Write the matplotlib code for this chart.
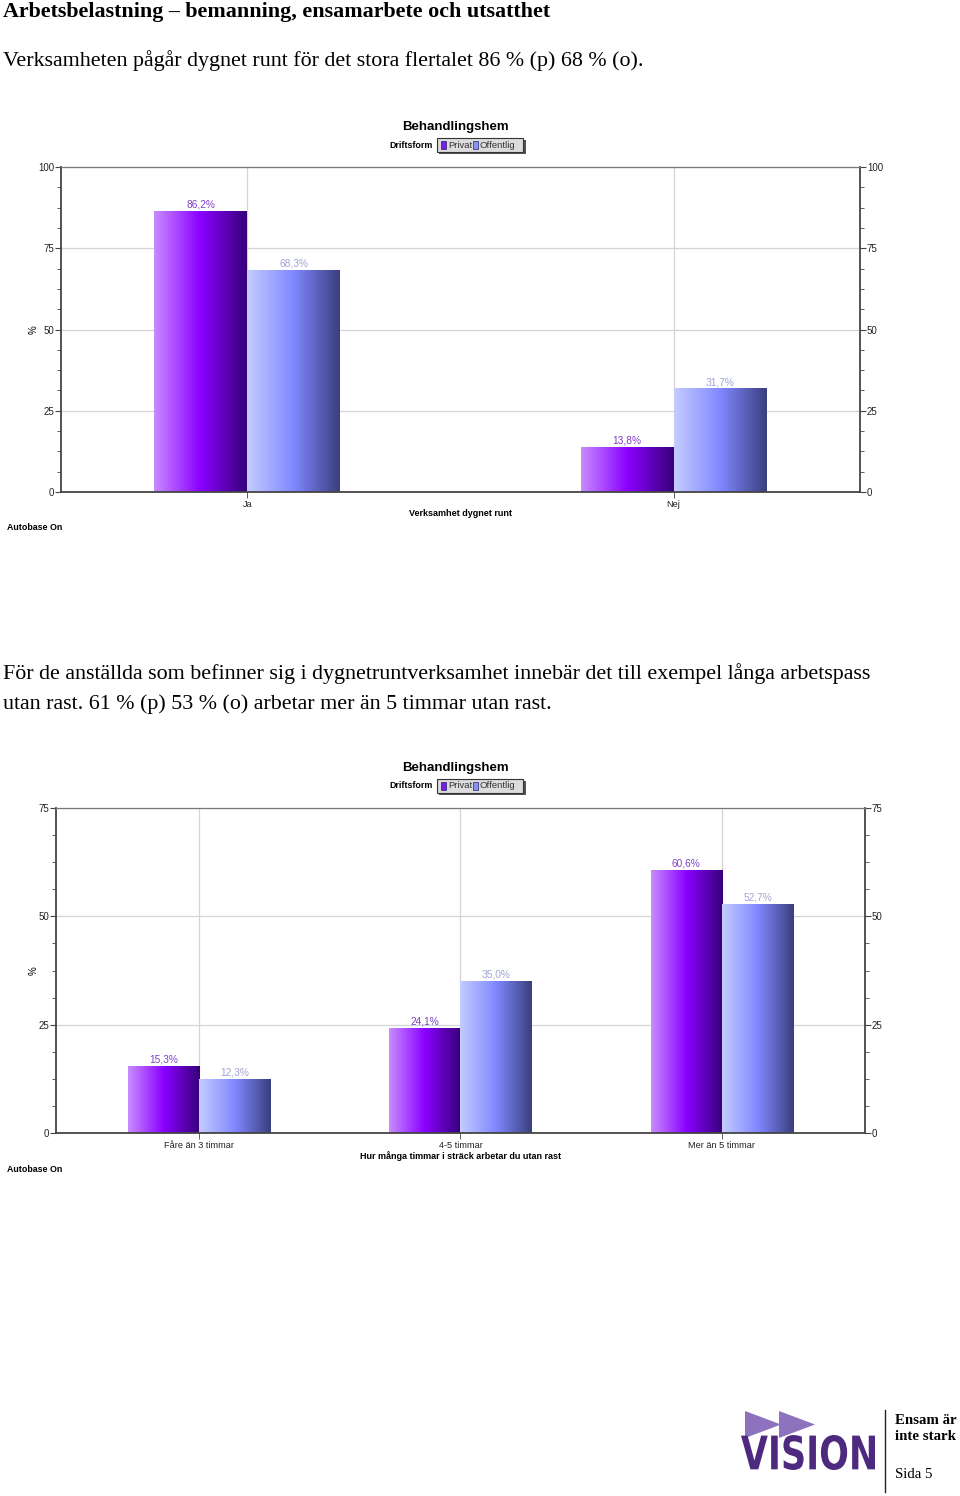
import numpy as np
import matplotlib
matplotlib.use("Agg")
import matplotlib.pyplot as plt
from matplotlib.colors import LinearSegmentedColormap
from matplotlib.patches import Rectangle, Polygon, PathPatch
from matplotlib.textpath import TextPath
from matplotlib.font_manager import FontProperties
from matplotlib.transforms import Affine2D
from matplotlib.ticker import MultipleLocator

W, H = 960, 1496

series = ["Privat", "Offentlig"]

# chart 1
cats1 = ["Ja", "Nej"]
privat1 = [86.2, 13.8]
offentlig1 = [68.3, 31.7]
xlabel1 = "Verksamhet dygnet runt"

# chart 2
cats2 = ["Fåre än 3 timmar", "4-5 timmar", "Mer än 5 timmar"]
privat2 = [15.3, 24.1, 60.6]
offentlig2 = [12.3, 35.0, 52.7]
xlabel2 = "Hur många timmar i sträck arbetar du utan rast"

title = "Arbetsbelastning – bemanning, ensamarbete och utsatthet"
intro1 = "Verksamheten pågår dygnet runt för det stora flertalet 86 % (p) 68 % (o)."
intro2 = ["För de anställda som befinner sig i dygnetruntverksamhet innebär det till exempel långa arbetspass",
          "utan rast. 61 % (p) 53 % (o) arbetar mer än 5 timmar utan rast."]

cm_p = LinearSegmentedColormap.from_list("p", ["#c88cff", "#8a00ff", "#36007a"])
cm_o = LinearSegmentedColormap.from_list("o", ["#c4ccff", "#8088ff", "#3a3f7e"])
lab_col = ["#7f3fc8", "#a0a4d4"]
leg_col = ["#7a1ee6", "#8a92f2"]

SANS = ["Liberation Sans", "DejaVu Sans"]
SERIF = ["Liberation Serif", "DejaVu Serif"]

fig = plt.figure(figsize=(W / 100, H / 100), dpi=100)


def fx(x):
    return x / W


def fy(y):
    return 1 - y / H


def ftext(x, y, s, **kw):
    kw.setdefault("family", SANS)
    fig.text(fx(x), fy(y), s, **kw)


def legend(y_title, y_leg):
    ftext(455, y_title, "Behandlingshem", fontsize=9.5, weight="bold", ha="center", va="center")
    ftext(433, y_leg, "Driftsform", fontsize=6.4, weight="bold", ha="right", va="center")
    # shadow + box
    fig.add_artist(Rectangle((fx(439), fy(y_leg + 9)), fx(87), 14 / H, transform=fig.transFigure,
                             facecolor="#555555", edgecolor="none"))
    fig.add_artist(Rectangle((fx(437), fy(y_leg + 7)), fx(86), 14 / H, transform=fig.transFigure,
                             facecolor="#dcdcdc", edgecolor="#333333", lw=0.8))
    xs = [441, 473]
    for i, s in enumerate(series):
        fig.add_artist(Rectangle((fx(xs[i]), fy(y_leg + 4)), fx(5), 8 / H, transform=fig.transFigure,
                                 facecolor=leg_col[i], edgecolor="#222266", lw=0.5))
        ftext(xs[i] + 7, y_leg, s, fontsize=6.8, color="#333333", ha="left", va="center")


def chart(l, t, r, b, cats, p, o, ymax, bw, side_pad, xlabel, xl_y):
    ax = fig.add_axes([fx(l), fy(b), fx(r - l), (b - t) / H])
    n = len(cats)
    x = np.arange(n)
    ax.set_axisbelow(True)
    ax.grid(True, axis="both", color="#d4d4d4", lw=0.9)
    bars_p = ax.bar(x - bw, p, width=bw, align="edge", color="none")
    bars_o = ax.bar(x, o, width=bw, align="edge", color="none")
    grad = np.linspace(0, 1, 256).reshape(1, -1)
    for bars, cm, col, vals in [(bars_p, cm_p, lab_col[0], p), (bars_o, cm_o, lab_col[1], o)]:
        for bar, v in zip(bars, vals):
            x0, w, h = bar.get_x(), bar.get_width(), bar.get_height()
            ax.imshow(grad, cmap=cm, aspect="auto", extent=[x0, x0 + w, 0, h], zorder=2,
                      interpolation="bicubic")
            ax.text(x0 + w / 2, h + ymax * 0.006, f"{v:.1f}%".replace(".", ","), color=col,
                    fontsize=7.3, ha="center", va="bottom", family=SANS)
    ax.set_xlim(x[0] - side_pad, x[-1] + side_pad)
    ax.set_ylim(0, ymax)
    ax.set_xticks(x)
    ax.set_xticklabels(cats, fontsize=6.6, family=SANS, color="#222222")
    ax.yaxis.set_major_locator(MultipleLocator(25))
    ax.yaxis.set_minor_locator(MultipleLocator(6.25))
    ax.tick_params(axis="y", which="both", left=True, right=True, labelleft=True, labelright=True,
                   direction="out", color="#444444", labelsize=7, pad=1, labelcolor="#222222")
    ax.tick_params(axis="y", which="major", length=4, width=0.8)
    ax.tick_params(axis="y", which="minor", length=3, width=0.6)
    ax.tick_params(axis="x", length=4, width=0.6, pad=2, color="#444444")
    for lab in ax.get_yticklabels():
        lab.set_family(SANS)
    for side in ["left", "right", "bottom"]:
        ax.spines[side].set_color("#444444")
        ax.spines[side].set_linewidth(1.3)
    ax.spines["top"].set_color("#777777")
    ax.spines["top"].set_linewidth(0.9)
    ftext((l + r) / 2, xl_y, xlabel, fontsize=6.5, weight="bold", ha="center", va="center")
    ftext(34, (t + b) / 2, "%", fontsize=7, rotation=90, ha="center", va="center")
    ftext(7, xl_y + 13, "Autobase On", fontsize=6.4, weight="bold", ha="left", va="center")
    return ax


# page text
ftext(3, 12, title, family=SERIF, fontsize=15.8, weight="bold", ha="left", va="center")
ftext(3, 61, intro1, family=SERIF, fontsize=15.8, ha="left", va="center")
ftext(3, 674, intro2[0], family=SERIF, fontsize=15.8, ha="left", va="center")
ftext(3, 704, intro2[1], family=SERIF, fontsize=15.8, ha="left", va="center")

legend(127, 145)
chart(61, 167, 860, 492, cats1, privat1, offentlig1, 100, 0.218, 0.437, xlabel1, 514)

legend(768, 786)
chart(56, 808, 865, 1133, cats2, privat2, offentlig2, 75, 0.273, 0.547, xlabel2, 1156)

# logo
logo_col = "#4d2a80"
tri_col = "#8d72bd"
for x0 in [745, 779]:
    fig.add_artist(Polygon([(fx(x0), fy(1411)), (fx(x0), fy(1438)), (fx(x0 + 36), fy(1424.5))],
                           closed=True, transform=fig.transFigure, facecolor=tri_col, edgecolor="none"))
tp = TextPath((0, 0), "VISION", size=100, prop=FontProperties(family="DejaVu Sans", weight="bold"))
bb = tp.get_extents()
tr = (Affine2D().translate(-bb.x0, -bb.y0)
      .scale(134 / bb.width, 35 / bb.height)
      .translate(741, H - 1470)
      .scale(1 / W, 1 / H))
fig.add_artist(PathPatch(tr.transform_path(tp), transform=fig.transFigure,
                         facecolor=logo_col, edgecolor="none"))
fig.add_artist(plt.Line2D([fx(885), fx(885)], [fy(1410), fy(1492)], transform=fig.transFigure,
                          color="#222222", lw=1))
ftext(895, 1420, "Ensam är", family=SERIF, fontsize=10.7, weight="bold", ha="left", va="center")
ftext(895, 1437, "inte stark", family=SERIF, fontsize=10.7, weight="bold", ha="left", va="center")
ftext(895, 1475, "Sida 5", family=SERIF, fontsize=10.7, ha="left", va="center")

fig.savefig("out.png", dpi=100)
